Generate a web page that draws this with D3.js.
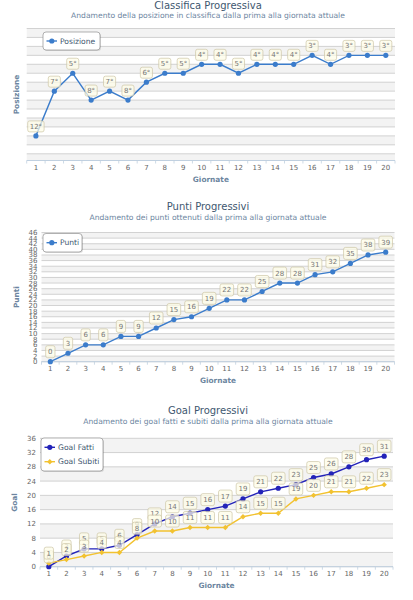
<!DOCTYPE html>
<html><head><meta charset="utf-8">
<script src="https://cdn.jsdelivr.net/npm/d3@7/dist/d3.min.js"></script>
<style>body{margin:0;background:#fff}svg{display:block;font-family:"DejaVu Sans",Verdana,sans-serif}</style>
</head><body><svg id="c" width="413" height="600"></svg>
<script>
const giornate = d3.range(1, 21).map(String);
const posizione = [12,7,5,8,7,8,6,5,5,4,4,5,4,4,4,3,4,3,3,3];
const punti = [0,3,6,6,9,9,12,15,16,19,22,22,25,28,28,31,32,35,38,39];
const goalFatti = [0,3,5,5,6,9,12,14,15,16,17,19,21,22,23,25,26,28,30,31];
const goalSubiti = [1,2,3,4,4,8,10,10,11,11,11,14,15,15,19,20,21,21,22,23];
const posTicks = d3.range(0, 15);
const puntiTicks = d3.range(0, 47, 2);
const goalTicks = d3.range(0, 37, 4);

const svg = d3.select("#c");
const TITLE = "#3E576F", SUB = "#6D869F", LAB = "#666";

function chart(o) {
  const g = svg.append("g");
  g.append("text").attr("x", 208).attr("y", o.titleY).attr("text-anchor","middle")
    .attr("font-size", 10).attr("fill", TITLE).text(o.title);
  g.append("text").attr("x", 208).attr("y", o.titleY + 9.5).attr("text-anchor","middle")
    .attr("font-size", 7.6).attr("fill", SUB).text(o.subtitle);
  const x = d3.scalePoint().domain(giornate).range([o.left, o.right]).padding(0.5);
  const y = d3.scaleLinear().domain(o.domain).range(o.reversed ? [o.top, o.bottom] : [o.bottom, o.top]);
  // bands
  o.ticks.forEach((t, i) => {
    if (i % 2 === 0) {
      const t2 = i + 1 < o.ticks.length ? o.ticks[i+1] : o.domain[1];
      const y1 = y(t), y2 = y(t2);
      g.append("rect").attr("x", o.left).attr("width", o.right - o.left)
        .attr("y", Math.min(y1,y2)).attr("height", Math.abs(y2-y1)).attr("fill", "#f3f3f3");
    }
  });
  o.ticks.forEach(t => {
    g.append("line").attr("x1", o.left).attr("x2", o.right).attr("y1", y(t)).attr("y2", y(t))
      .attr("stroke", "#c8c8c8").attr("stroke-width", 0.8);
  });
  // x axis
  g.append("line").attr("x1", o.left).attr("x2", o.right).attr("y1", o.bottom).attr("y2", o.bottom)
    .attr("stroke", "#C0D0E0").attr("stroke-width", 1);
  const step = x.step();
  d3.range(0, 21).forEach(i => {
    const xx = o.left + i * step;
    g.append("line").attr("x1", xx).attr("x2", xx).attr("y1", o.bottom).attr("y2", o.bottom + 3)
      .attr("stroke", "#C0D0E0").attr("stroke-width", 0.8);
  });
  giornate.forEach(d => {
    g.append("text").attr("x", x(d)).attr("y", o.bottom + 9).attr("text-anchor","middle")
      .attr("font-size", 7).attr("fill", LAB).text(d);
  });
  g.append("text").attr("x", (o.left + o.right)/2).attr("y", o.bottom + 21).attr("text-anchor","middle")
    .attr("font-size", 7.4).attr("font-weight","bold").attr("fill", SUB).text("Giornate");
  const cy = (o.top + o.bottom) / 2;
  g.append("text").attr("transform", `translate(${o.yTitleX},${cy}) rotate(-90)`).attr("text-anchor","middle")
    .attr("font-size", 7.4).attr("font-weight","bold").attr("fill", SUB).text(o.yTitle);
  if (o.yLabels) {
    o.ticks.forEach(t => {
      g.append("text").attr("x", o.left - 4).attr("y", y(t) + 2.5).attr("text-anchor","end")
        .attr("font-size", 7).attr("fill", LAB).text(t);
    });
  }
  // series
  o.series.forEach(s => {
    const line = d3.line().x((d,i) => x(giornate[i])).y(d => y(d));
    g.append("path").attr("d", line(s.data)).attr("fill","none").attr("stroke", s.color).attr("stroke-width", 1.4);
    s.data.forEach((d,i) => {
      if (s.symbol === "diamond") {
        const cx = x(giornate[i]), yy = y(d), r = 2.7;
        g.append("path").attr("d", `M${cx},${yy-r}L${cx+r},${yy}L${cx},${yy+r}L${cx-r},${yy}Z`).attr("fill", s.color);
      } else {
        g.append("circle").attr("cx", x(giornate[i])).attr("cy", y(d)).attr("r", 2.6).attr("fill", s.color);
      }
    });
  });
  // data labels
  o.series.forEach(s => {
    s.data.forEach((d,i) => {
      const txt = d + (s.suffix || "");
      const cx = x(giornate[i]), py = y(d);
      const tw = txt.length * 4.3 - (s.suffix ? 1.5 : 0);
      const w = tw + 5, h = o.labelH;
      g.append("rect").attr("x", cx - w/2).attr("y", py - 4 - h).attr("width", w).attr("height", h)
        .attr("rx", 2).attr("fill", "rgba(253,252,232,0.72)").attr("stroke", "#cdc6a6").attr("stroke-width", 0.7);
      g.append("text").attr("x", cx).attr("y", py - 4 - h/2 + 2.5).attr("text-anchor","middle")
        .attr("font-size", 7).attr("fill", "#777").text(txt);
    });
  });
  // legend
  const L = o.legend;
  g.append("rect").attr("x", L.x + 1).attr("y", L.y + 1).attr("width", L.w).attr("height", L.h).attr("rx", 3)
    .attr("fill", "rgba(0,0,0,0.12)");
  g.append("rect").attr("x", L.x).attr("y", L.y).attr("width", L.w).attr("height", L.h).attr("rx", 3)
    .attr("fill", "#fff").attr("stroke", "#909090").attr("stroke-width", 0.7);
  o.series.forEach((s, k) => {
    const ly = L.y + L.first + k * 14.4;
    g.append("line").attr("x1", L.x + 3.5).attr("x2", L.x + 14).attr("y1", ly).attr("y2", ly)
      .attr("stroke", s.color).attr("stroke-width", 1.4);
    const mx = L.x + 8.8;
    if (s.symbol === "diamond") {
      g.append("path").attr("d", `M${mx},${ly-2.7}L${mx+2.7},${ly}L${mx},${ly+2.7}L${mx-2.7},${ly}Z`).attr("fill", s.color);
    } else {
      g.append("circle").attr("cx", mx).attr("cy", ly).attr("r", 2.6).attr("fill", s.color);
    }
    g.append("text").attr("x", L.x + 17).attr("y", ly + 2.7).attr("font-size", 7.6).attr("fill", TITLE).text(s.name);
  });
}

chart({
  title: "Classifica Progressiva", subtitle: "Andamento della posizione in classifica dalla prima alla giornata attuale",
  titleY: 8.5, left: 26.7, right: 395, top: 28.5, bottom: 160.5, domain: [0, 14.75], reversed: true,
  ticks: posTicks, yLabels: false, yTitle: "Posizione", yTitleX: 19, labelH: 11,
  series: [{ name: "Posizione", data: posizione, color: "#3b7ccb", suffix: "°" }],
  legend: { x: 43, y: 32, w: 57, h: 18, first: 9 }
});
chart({
  title: "Punti Progressivi", subtitle: "Andamento dei punti ottenuti dalla prima alla giornata attuale",
  titleY: 210, left: 41.5, right: 394.5, top: 232.5, bottom: 361.7, domain: [0, 46], reversed: false,
  ticks: puntiTicks, yLabels: true, yTitle: "Punti", yTitleX: 19, labelH: 12,
  series: [{ name: "Punti", data: punti, color: "#3b7ccb" }],
  legend: { x: 43, y: 233.5, w: 39, h: 18.5, first: 9.2 }
});
chart({
  title: "Goal Progressivi", subtitle: "Andamento dei goal fatti e subiti dalla prima alla giornata attuale",
  titleY: 414, left: 40, right: 393, top: 438.3, bottom: 566.7, domain: [0, 36], reversed: false,
  ticks: goalTicks, yLabels: true, yTitle: "Goal", yTitleX: 17, labelH: 12,
  series: [
    { name: "Goal Fatti", data: goalFatti, color: "#2323b8" },
    { name: "Goal Subiti", data: goalSubiti, color: "#f2c230", symbol: "diamond" }
  ],
  legend: { x: 41, y: 438, w: 62, h: 33, first: 9.3 }
});
</script></body></html>
